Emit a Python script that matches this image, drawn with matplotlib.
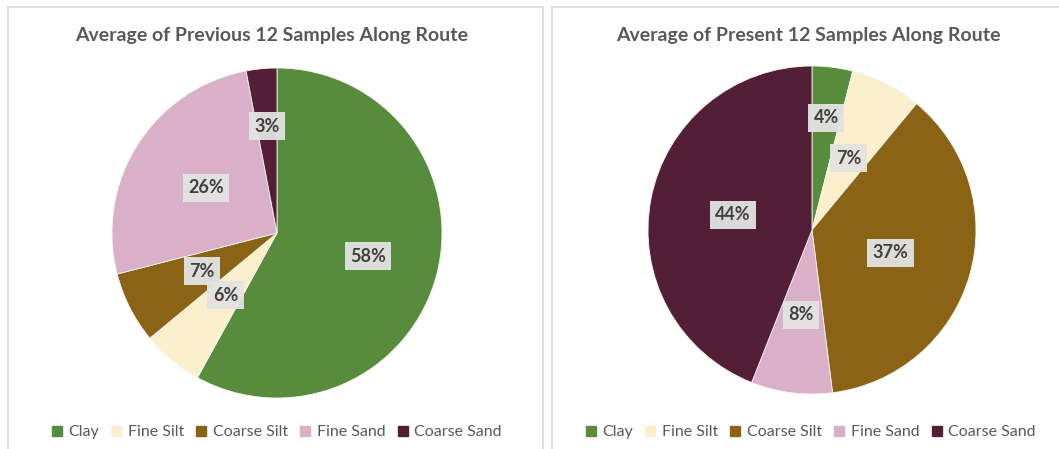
import matplotlib
matplotlib.use("Agg")
import matplotlib.pyplot as plt
from matplotlib.lines import Line2D
import numpy as np

categories = ["Clay", "Fine Silt", "Coarse Silt", "Fine Sand", "Coarse Sand"]
previous_values = [58, 6, 7, 26, 3]
present_values = [4, 7, 37, 8, 44]
titles = ["Average of Previous 12 Samples Along Route",
          "Average of Present 12 Samples Along Route"]
colors = ["#578c3c", "#fcf0cc", "#8a6414", "#d9b0c8", "#521f36"]

# label radii (fraction of pie radius), matching the original label placement
prev_label_r = [0.57, 0.49, 0.51, 0.51, 0.65]
pres_label_r = [0.69, 0.49, 0.50, 0.52, 0.49]

plt.rcParams["font.family"] = ["Lato", "DejaVu Sans"]

W, H = 1059, 449
fig = plt.figure(figsize=(W / 100, H / 100), dpi=100)
fig.patch.set_facecolor("white")

def px_axes(cx, cy, r):
    return fig.add_axes([(cx - r) / W, (H - cy - r) / H, 2 * r / W, 2 * r / H])

# panel borders
bc = "#d9d9d9"
for x in [8, 543, 552]:
    fig.add_artist(Line2D([x / W, x / W], [0, 1 - 7 / H], color=bc, lw=1.2))
fig.add_artist(Line2D([8 / W, 543 / W], [1 - 7 / H, 1 - 7 / H], color=bc, lw=1.2))
fig.add_artist(Line2D([552 / W, 1], [1 - 7 / H, 1 - 7 / H], color=bc, lw=1.2))

panels = [
    (previous_values, prev_label_r, titles[0], 277, 233, 165, 272, 276),
    (present_values, pres_label_r, titles[1], 812, 230, 164, 808, 810),
]

for vals, lrs, title, cx, cy, r, tx, lx in panels:
    ax = px_axes(cx, cy, r)
    wedges, _ = ax.pie(vals, colors=colors, startangle=90, counterclock=False,
                       radius=1.0, wedgeprops=dict(linewidth=0.6, edgecolor="#f4f4f4"))
    ax.set_xlim(-1.0, 1.0)
    ax.set_ylim(-1.0, 1.0)
    ax.set_aspect("equal")
    ax.axis("off")
    total = sum(vals)
    cum = 0
    for v, lr in zip(vals, lrs):
        mid = 90 - (cum + v / 2) / total * 360
        cum += v
        ang = np.deg2rad(mid)
        ax.text(lr * np.cos(ang), lr * np.sin(ang), f"{v}%", ha="center", va="center",
                fontsize=13, fontweight="bold", color="#404040",
                bbox=dict(boxstyle="square,pad=0.3", facecolor="#e3e3e3",
                          edgecolor="none", alpha=0.95))
    fig.text(tx / W, 1 - 35 / H, title, ha="center", va="center",
             fontsize=14, fontweight="bold", color="#595959")
    handles = [Line2D([], [], marker="s", linestyle="none", markersize=7,
                      markerfacecolor=c, markeredgecolor=c) for c in colors]
    fig.legend(handles, categories, loc="center", bbox_to_anchor=(lx / W, 1 - 432 / H),
               ncol=5, frameon=False, fontsize=11.5, handlelength=0.8, handletextpad=0.3,
               columnspacing=0.7, labelcolor="#595959")

fig.savefig("out.png", dpi=100, facecolor="white")
